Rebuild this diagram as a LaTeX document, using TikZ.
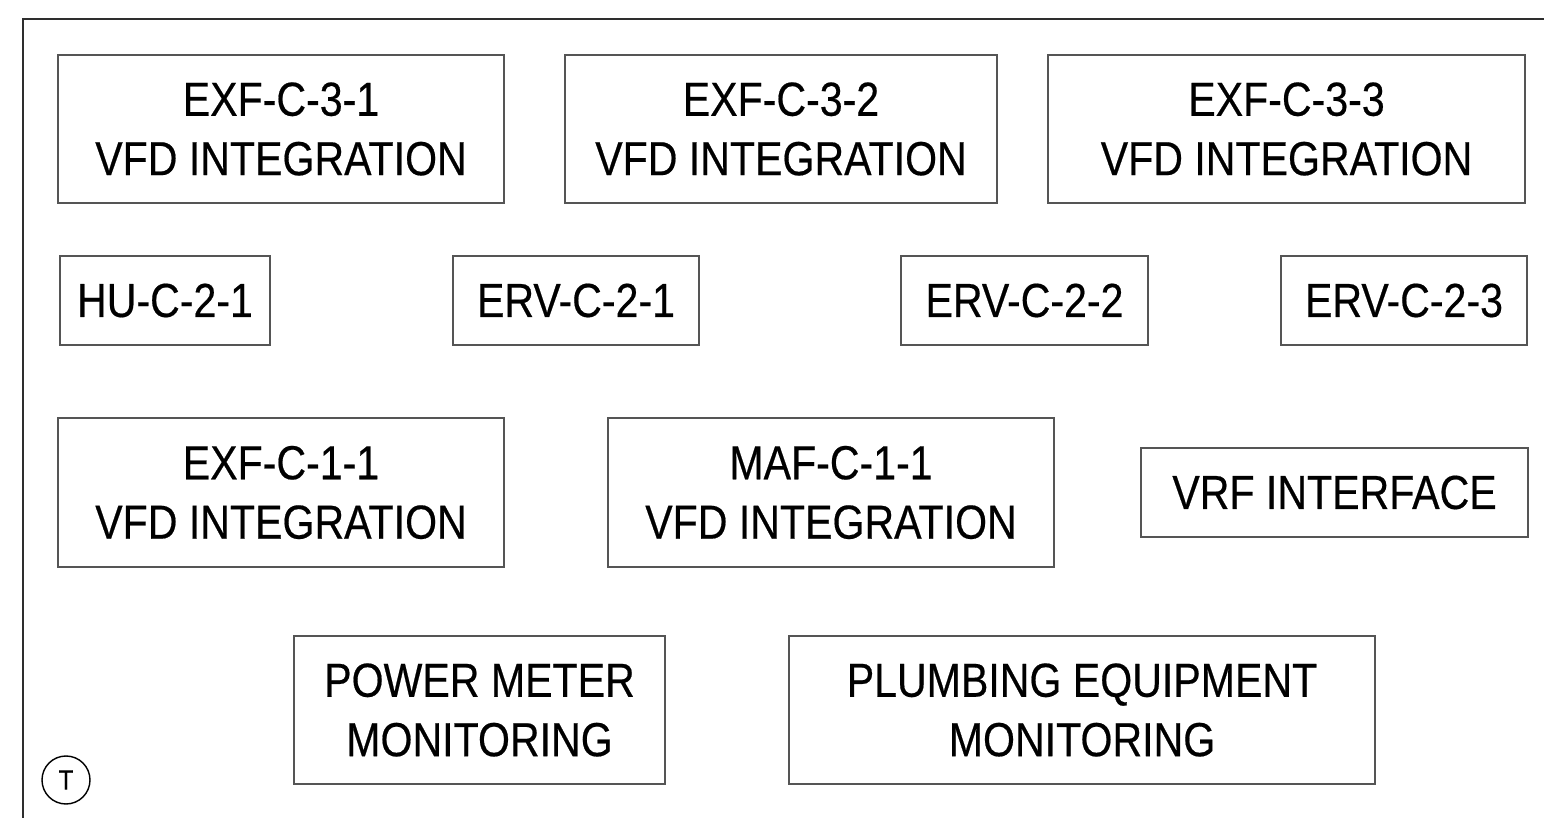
\documentclass[tikz,border=0pt]{standalone}
\usepackage{fontspec}
\setmainfont{Liberation Sans}[FakeStretch=0.86, FakeBold=0.4]
\usepackage{tikz}
\usepackage{xcolor}
\usetikzlibrary{positioning}
\definecolor{boxline}{HTML}{555555}
\definecolor{frameline}{HTML}{2E2E2E}

\begin{document}
\begin{tikzpicture}[x=0.5pt, y=-0.5pt,
    unit/.style={draw=boxline, line width=0.65pt, align=center, inner sep=0pt,
      font=\fontsize{23.9}{29.7}\selectfont}]
  \useasboundingbox (0,0) rectangle (1544,818);
  \draw[frameline, line width=1pt] (23,818) -- (23,19) -- (1544,19);
  \foreach \n/\x/\y/\w/\h/\t in {
      exfA/281/129/446/148/{EXF-C-3-1\\VFD INTEGRATION},
      exfB/781/129/432/148/{EXF-C-3-2\\VFD INTEGRATION},
      exfC/1286.5/129/477/148/{EXF-C-3-3\\VFD INTEGRATION},
      hu/165/300.5/210/89/{HU-C-2-1},
      ervA/576/300.5/246/89/{ERV-C-2-1},
      ervB/1024.5/300.5/247/89/{ERV-C-2-2},
      ervC/1404/300.5/246/89/{ERV-C-2-3},
      exfD/281/492.5/446/149/{EXF-C-1-1\\VFD INTEGRATION},
      maf/831/492.5/446/149/{MAF-C-1-1\\VFD INTEGRATION},
      vrf/1334.5/492.5/387/89/{VRF INTERFACE},
      power/479.5/710/371/148/{POWER METER\\MONITORING},
      plumb/1082/710/586/148/{PLUMBING EQUIPMENT\\MONITORING}} {
    \node[unit, minimum width=\w*0.5pt, minimum height=\h*0.5pt] (\n) at (\x,\y) {\t};
  }
  \node[draw, circle, line width=0.7pt, minimum size=24pt, inner sep=0pt,
    font=\fontsize{14}{16}\selectfont] (tag) at (66,780) {T};
\end{tikzpicture}
\end{document}
